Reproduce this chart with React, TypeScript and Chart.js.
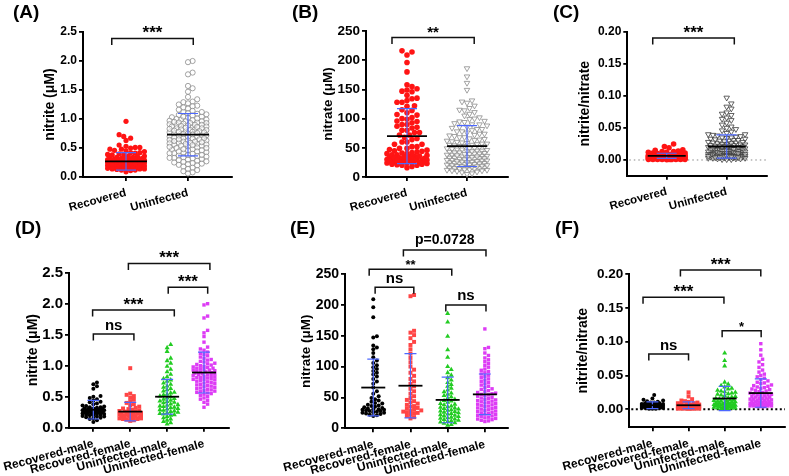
import React, { useEffect, useRef } from 'react';
import { Chart, registerables } from 'chart.js';
Chart.register(...registerables);

const FONT = "'Liberation Sans', Arial, Helvetica, sans-serif";

// ---------- data ----------
const groups2 = ['Recovered', 'Uninfected'];
const groups4 = ['Recovered-male', 'Recovered-female', 'Uninfected-male', 'Uninfected-female'];

const nitriteRM = [0.73, 0.70, 0.67, 0.63, 0.51, 0.50, 0.48, 0.46, 0.44, 0.42, 0.41, 0.39, 0.38, 0.36, 0.35, 0.34, 0.33, 0.33, 0.32, 0.31, 0.31, 0.30, 0.30, 0.29, 0.29, 0.29, 0.28, 0.28, 0.27, 0.27, 0.27, 0.26, 0.26, 0.25, 0.25, 0.25, 0.24, 0.24, 0.23, 0.23, 0.22, 0.22, 0.21, 0.21, 0.20, 0.20, 0.19, 0.18, 0.18, 0.17, 0.16, 0.15, 0.14, 0.12, 0.09];
const nitriteRF = [0.96, 0.55, 0.53, 0.51, 0.48, 0.45, 0.42, 0.40, 0.38, 0.36, 0.34, 0.32, 0.31, 0.30, 0.29, 0.28, 0.27, 0.26, 0.26, 0.25, 0.24, 0.24, 0.23, 0.23, 0.22, 0.22, 0.21, 0.21, 0.20, 0.20, 0.19, 0.19, 0.18, 0.18, 0.17, 0.17, 0.16, 0.16, 0.15, 0.15, 0.14, 0.14, 0.13, 0.12, 0.11];
const nitriteUM = [1.34, 1.29, 1.23, 1.12, 1.08, 1.04, 0.99, 0.94, 0.90, 0.86, 0.82, 0.79, 0.77, 0.75, 0.72, 0.70, 0.67, 0.65, 0.63, 0.61, 0.59, 0.57, 0.56, 0.54, 0.53, 0.51, 0.50, 0.48, 0.47, 0.46, 0.44, 0.43, 0.42, 0.41, 0.40, 0.38, 0.37, 0.36, 0.35, 0.34, 0.33, 0.32, 0.31, 0.30, 0.29, 0.28, 0.27, 0.26, 0.25, 0.24, 0.23, 0.22, 0.21, 0.20, 0.18, 0.16, 0.14, 0.12, 0.10, 0.08, 0.06];
const nitriteUF = [2.00, 1.98, 1.80, 1.77, 1.57, 1.53, 1.47, 1.38, 1.30, 1.27, 1.25, 1.22, 1.20, 1.18, 1.16, 1.14, 1.12, 1.10, 1.09, 1.07, 1.06, 1.04, 1.03, 1.02, 1.01, 1.00, 0.99, 0.98, 0.97, 0.96, 0.96, 0.95, 0.94, 0.93, 0.93, 0.92, 0.91, 0.90, 0.90, 0.89, 0.88, 0.87, 0.87, 0.86, 0.85, 0.84, 0.84, 0.83, 0.82, 0.81, 0.81, 0.80, 0.79, 0.78, 0.78, 0.77, 0.76, 0.75, 0.74, 0.73, 0.72, 0.71, 0.70, 0.69, 0.68, 0.67, 0.66, 0.65, 0.64, 0.63, 0.62, 0.61, 0.60, 0.59, 0.58, 0.57, 0.56, 0.55, 0.54, 0.52, 0.50, 0.48, 0.46, 0.44, 0.41, 0.38, 0.33];

const nitrateRM = [209, 196, 180, 149, 147, 134, 131, 128, 122, 115, 110, 106, 102, 99, 96, 93, 90, 87, 84, 80, 76, 72, 66, 60, 56, 52, 49, 47, 45, 43, 41, 40, 38, 37, 36, 35, 34, 33, 32, 31, 31, 30, 30, 29, 28, 28, 27, 26, 25, 25, 24, 23, 22, 21, 20];
const nitrateRF = [216, 214, 158, 155, 151, 146, 140, 135, 128, 121, 114, 107, 100, 95, 90, 85, 80, 76, 72, 68, 64, 60, 56, 52, 49, 46, 44, 42, 40, 38, 36, 35, 33, 32, 30, 29, 28, 27, 26, 25, 24, 22, 20, 18, 16];
const nitrateUM = [186, 172, 149, 127, 115, 100, 95, 90, 86, 82, 78, 74, 71, 68, 65, 62, 59, 57, 55, 53, 51, 49, 47, 45, 44, 42, 40, 39, 38, 36, 35, 34, 33, 32, 31, 30, 29, 28, 27, 26, 25, 24, 23, 22, 21, 20, 19, 18, 17, 16, 15, 14, 13, 12, 11, 10, 9, 8, 6, 5];
const nitrateUF = [161, 131, 129, 122, 118, 114, 111, 108, 105, 102, 99, 96, 94, 92, 90, 88, 86, 84, 82, 80, 78, 76, 74, 72, 70, 68, 66, 64, 63, 61, 60, 58, 57, 56, 55, 54, 53, 52, 50, 49, 48, 47, 46, 45, 44, 43, 42, 41, 40, 39, 38, 37, 36, 35, 34, 33, 32, 31, 30, 29, 28, 27, 26, 25, 24, 23, 22, 21, 20, 19, 18, 17, 16, 15, 14, 13, 12, 11];

const ratioRM = [0.021, 0.016, 0.014, 0.013, 0.012, 0.011, 0.010, 0.010, 0.009, 0.009, 0.009, 0.008, 0.008, 0.008, 0.008, 0.007, 0.007, 0.007, 0.007, 0.007, 0.006, 0.006, 0.006, 0.006, 0.006, 0.006, 0.005, 0.005, 0.005, 0.005, 0.005, 0.005, 0.004, 0.004, 0.004, 0.004, 0.004, 0.004, 0.003, 0.003, 0.003, 0.003, 0.003, 0.002, 0.002, 0.002, 0.002, 0.001, 0.001, 0.001];
const ratioRF = [0.025, 0.019, 0.015, 0.013, 0.012, 0.011, 0.010, 0.009, 0.009, 0.008, 0.008, 0.007, 0.007, 0.007, 0.006, 0.006, 0.006, 0.005, 0.005, 0.005, 0.005, 0.004, 0.004, 0.004, 0.004, 0.004, 0.003, 0.003, 0.003, 0.003, 0.003, 0.002, 0.002, 0.002, 0.002, 0.002, 0.001, 0.001, 0.001, 0.001, 0.001, 0.0008, 0.0006];
const ratioUM = [0.083, 0.072, 0.064, 0.040, 0.037, 0.035, 0.033, 0.031, 0.030, 0.028, 0.027, 0.026, 0.025, 0.024, 0.023, 0.022, 0.021, 0.020, 0.019, 0.018, 0.017, 0.016, 0.015, 0.015, 0.014, 0.014, 0.013, 0.013, 0.012, 0.012, 0.011, 0.011, 0.010, 0.010, 0.009, 0.009, 0.008, 0.008, 0.008, 0.007, 0.007, 0.007, 0.006, 0.006, 0.006, 0.005, 0.005, 0.005, 0.004, 0.004, 0.004, 0.003, 0.003, 0.003, 0.002, 0.002, 0.002, 0.001, 0.001, 0.001];
const ratioUF = [0.097, 0.088, 0.080, 0.074, 0.070, 0.066, 0.062, 0.058, 0.055, 0.052, 0.050, 0.048, 0.046, 0.044, 0.042, 0.040, 0.039, 0.038, 0.036, 0.035, 0.034, 0.033, 0.032, 0.031, 0.030, 0.029, 0.028, 0.027, 0.026, 0.025, 0.024, 0.023, 0.022, 0.022, 0.021, 0.020, 0.020, 0.019, 0.018, 0.018, 0.017, 0.016, 0.016, 0.015, 0.015, 0.014, 0.014, 0.013, 0.013, 0.012, 0.012, 0.011, 0.011, 0.010, 0.010, 0.010, 0.009, 0.009, 0.009, 0.008, 0.008, 0.008, 0.007, 0.007, 0.007, 0.006, 0.006, 0.006, 0.006, 0.005, 0.005, 0.005, 0.005, 0.004, 0.004, 0.004];

// mean and SD per group
const meanA = [0.27, 0.73];
const sdA = [0.15, 0.365];
const meanB = [70, 53];
const sdB = [47, 35];
const meanC = [0.0065, 0.021];
const sdC = [0.004, 0.018];
const meanD = [0.29, 0.26, 0.50, 0.89];
const sdD = [0.15, 0.15, 0.28, 0.33];
const meanE = [66, 69, 46, 55];
const sdE = [46, 52, 37, 33];
const meanF = [0.006, 0.006, 0.016, 0.024];
const sdF = [0.005, 0.005, 0.018, 0.021];

// tick labels
const ticksNitrite = [0, 0.5, 1.0, 1.5, 2.0, 2.5];
const ticksNitrate = [0, 50, 100, 150, 200, 250];
const ticksRatio = [0, 0.05, 0.10, 0.15, 0.20];

// significance brackets (x in group index units, y in data units)
const bracketsA = [{ x1: -0.23, x2: 1.085, y: 2.39, text: '***' }];
const bracketsB = [{ x1: -0.25, x2: 1.12, y: 239, text: '**' }];
const bracketsC = [{ x1: -0.233, x2: 1.127, y: 0.19, text: '***' }];
const bracketsD = [
  { x1: 0.95, x2: 3.16, y: 2.65, text: '***' },
  { x1: 2.03, x2: 3.10, y: 2.265, text: '***' },
  { x1: -0.02, x2: 2.195, y: 1.90, text: '***' },
  { x1: 0.0, x2: 1.10, y: 1.51, text: 'ns' },
];
const bracketsE = [
  { x1: 0.81, x2: 3.03, y: 289, text: 'p=0.0728' },
  { x1: -0.11, x2: 2.11, y: 257.7, text: '**' },
  { x1: 0.05, x2: 1.09, y: 228.5, text: 'ns' },
  { x1: 1.95, x2: 3.03, y: 199.8, text: 'ns' },
];
const bracketsF = [
  { x1: 0.775, x2: 3.0, y: 0.206, text: '***' },
  { x1: -0.26, x2: 1.98, y: 0.1656, text: '***' },
  { x1: 1.93, x2: 3.01, y: 0.116, text: '*' },
  { x1: -0.10, x2: 1.0, y: 0.0817, text: 'ns' },
];

// ---------- layout helpers ----------
type Bracket = { x1: number; x2: number; y: number; text: string };
type Series = { values: number[]; style: string; radius: number; fill: string; stroke: string; bw: number; rotation?: number };
type PanelDef = {
  left: number; top: number; width: number; height: number;
  area: [number, number, number, number];
  titleX: number; titleFont: number; yTitle: string;
  xMin: number; xMax: number; yMin: number; yMax: number;
  yTicks: number[]; dec: number; tickFont: number;
  cats: string[]; catFont: number;
  label: string; labelX: number; labelY: number;
  series: Series[]; means: number[]; sds: number[];
  meanHalf: number; capHalf: number;
  brackets: Bracket[]; bracketFont: Record<string, number>;
  zero: null | { color: string; width: number; dash: number[] };
  swarmD: number; swarmHalf: number;
};

function swarm(values: number[], pxY: number, d: number, maxHalf: number): number[] {
  const order = values.map((_, i) => i).sort((a, b) => values[a] - values[b]);
  const placed: { x: number; y: number }[] = [];
  const out = new Array(values.length).fill(0);
  const step = d / 2;
  const n = Math.max(1, Math.floor(maxHalf / step));
  for (const i of order) {
    const y = values[i] * pxY;
    const near = placed.filter((q) => Math.abs(q.y - y) < d);
    let best = 0;
    let bestScore = -1;
    for (let k = 0; k <= 2 * n; k++) {
      const off = k === 0 ? 0 : (k % 2 === 1 ? 1 : -1) * Math.ceil(k / 2) * step;
      let m = Infinity;
      for (const q of near) {
        const dd = Math.hypot(q.x - off, q.y - y);
        if (dd < m) m = dd;
      }
      if (m >= d) { best = off; break; }
      if (m > bestScore + 1e-9) { bestScore = m; best = off; }
    }
    placed.push({ x: best, y });
    out[i] = best;
  }
  return out;
}

const RED = '#ff1414';
const SDC = '#4d68ff';
const sub = (fill: string, style: string, radius: number, rotation = 0): Series =>
  ({ values: [], style, radius, fill, stroke: fill, bw: 0, rotation });

function subSeries(a: number[], b: number[], c: number[], d: number[]): Series[] {
  return [
    { ...sub('#000000', 'circle', 2.0), values: a },
    { ...sub('#ff4545', 'rect', 2.8), values: b },
    { ...sub('#22cc22', 'triangle', 2.9), values: c },
    { ...sub('#dd3cf5', 'rect', 2.4), values: d },
  ];
}

const fontSizes = { '***': 17, '**': 15, '*': 13, ns: 15, 'p=0.0728': 14 } as Record<string, number>;

const panels: PanelDef[] = [
  {
    left: 0, top: 0, width: 260, height: 215, area: [83, 32, 232, 177],
    titleX: 50, titleFont: 14, yTitle: 'nitrite (μM)',
    xMin: -0.694, xMax: 1.71, yMin: 0, yMax: 2.5, yTicks: ticksNitrite, dec: 1, tickFont: 12,
    cats: groups2, catFont: 11.5, label: '(A)', labelX: 13, labelY: 18,
    series: [
      { values: [...nitriteRM, ...nitriteRF], style: 'circle', radius: 2.6, fill: RED, stroke: RED, bw: 0 },
      { values: [...nitriteUM, ...nitriteUF], style: 'circle', radius: 2.6, fill: 'rgba(255,255,255,0.55)', stroke: '#8c8c8c', bw: 0.8 },
    ],
    means: meanA, sds: sdA, meanHalf: 21, capHalf: 10,
    brackets: bracketsA, bracketFont: fontSizes, zero: null, swarmD: 4.6, swarmHalf: 20,
  },
  {
    left: 260, top: 0, width: 260, height: 215, area: [106, 31, 248, 177],
    titleX: 68, titleFont: 13.5, yTitle: 'nitrate (μM)',
    xMin: -0.683, xMax: 1.683, yMin: 0, yMax: 250, yTicks: ticksNitrate, dec: 0, tickFont: 13.5,
    cats: groups2, catFont: 11.5, label: '(B)', labelX: 32, labelY: 18,
    series: [
      { values: [...nitrateRM, ...nitrateRF], style: 'circle', radius: 2.8, fill: RED, stroke: RED, bw: 0 },
      { values: [...nitrateUM, ...nitrateUF], style: 'triangle', rotation: 180, radius: 3.2, fill: 'rgba(255,255,255,0.55)', stroke: '#8c8c8c', bw: 0.8 },
    ],
    means: meanB, sds: sdB, meanHalf: 20, capHalf: 10,
    brackets: bracketsB, bracketFont: fontSizes, zero: null, swarmD: 5, swarmHalf: 20,
  },
  {
    left: 520, top: 0, width: 269, height: 215, area: [107.3, 31.7, 246.7, 175.7],
    titleX: 65, titleFont: 14, yTitle: 'nitrite/nitrate',
    xMin: -0.657, xMax: 1.667, yMin: -0.0245, yMax: 0.2, yTicks: ticksRatio, dec: 2, tickFont: 12,
    cats: groups2, catFont: 11.5, label: '(C)', labelX: 33, labelY: 18,
    series: [
      { values: [...ratioRM, ...ratioRF], style: 'circle', radius: 2.8, fill: RED, stroke: RED, bw: 0 },
      { values: [...ratioUM, ...ratioUF], style: 'triangle', rotation: 180, radius: 3.2, fill: 'rgba(255,255,255,0.5)', stroke: '#3a3a3a', bw: 0.8 },
    ],
    means: meanC, sds: sdC, meanHalf: 19, capHalf: 10,
    brackets: bracketsC, bracketFont: fontSizes, zero: { color: '#888888', width: 1, dash: [1.5, 3] }, swarmD: 4.6, swarmHalf: 19,
  },
  {
    left: 0, top: 200, width: 260, height: 276, area: [69, 72.7, 229.3, 227.7],
    titleX: 33.3, titleFont: 14, yTitle: 'nitrite (μM)',
    xMin: -0.66, xMax: 3.686, yMin: 0, yMax: 2.5, yTicks: ticksNitrite, dec: 1, tickFont: 15,
    cats: groups4, catFont: 12, label: '(D)', labelX: 15, labelY: 34,
    series: subSeries(nitriteRM, nitriteRF, nitriteUM, nitriteUF),
    means: meanD, sds: sdD, meanHalf: 12, capHalf: 6,
    brackets: bracketsD, bracketFont: fontSizes, zero: null, swarmD: 3.6, swarmHalf: 11,
  },
  {
    left: 260, top: 200, width: 260, height: 276, area: [85, 74, 248.3, 228.3],
    titleX: 46.7, titleFont: 13.5, yTitle: 'nitrate (μM)',
    xMin: -0.76, xMax: 3.63, yMin: 0, yMax: 250, yTicks: ticksNitrate, dec: 0, tickFont: 14,
    cats: groups4, catFont: 12, label: '(E)', labelX: 30, labelY: 34,
    series: subSeries(nitrateRM, nitrateRF, nitrateUM, nitrateUF),
    means: meanE, sds: sdE, meanHalf: 12, capHalf: 6,
    brackets: bracketsE, bracketFont: { ...fontSizes, '**': 13 }, zero: null, swarmD: 3.6, swarmHalf: 11,
  },
  {
    left: 520, top: 200, width: 269, height: 276, area: [109.3, 74, 266.7, 227.3],
    titleX: 63.3, titleFont: 14, yTitle: 'nitrite/nitrate',
    xMin: -0.64, xMax: 3.67, yMin: -0.0266, yMax: 0.2, yTicks: ticksRatio, dec: 2, tickFont: 13.5,
    cats: groups4, catFont: 12, label: '(F)', labelX: 35, labelY: 34,
    series: subSeries(ratioRM, ratioRF, ratioUM, ratioUF),
    means: meanF, sds: sdF, meanHalf: 12, capHalf: 6,
    brackets: bracketsF, bracketFont: fontSizes, zero: { color: '#000000', width: 2, dash: [2, 2.5] }, swarmD: 3.6, swarmHalf: 11,
  },
];

function Panel({ p }: { p: PanelDef }) {
  const ref = useRef<HTMLCanvasElement>(null);
  useEffect(() => {
    if (!ref.current) return;
    const [l, t, r, b] = p.area;
    const pxX = (r - l) / (p.xMax - p.xMin);
    const pxY = (b - t) / (p.yMax - p.yMin);
    const padL = p.titleX - (p.titleFont * 1.2) / 2;
    const datasets = p.series.map((s, i) => {
      const offs = swarm(s.values, pxY, p.swarmD, p.swarmHalf);
      return {
        data: s.values.map((v, j) => ({ x: i + offs[j] / pxX, y: v })),
        pointStyle: s.style as any,
        pointRadius: s.radius,
        pointRotation: s.rotation || 0,
        pointBackgroundColor: s.fill,
        pointBorderColor: s.stroke,
        pointBorderWidth: s.bw,
        clip: false as any,
      };
    });
    const overlay = {
      id: 'overlay',
      beforeDatasetsDraw(chart: any) {
        if (!p.zero) return;
        const ctx = chart.ctx;
        const y = chart.scales.y.getPixelForValue(0);
        ctx.save();
        ctx.strokeStyle = p.zero.color;
        ctx.lineWidth = p.zero.width;
        ctx.setLineDash(p.zero.dash);
        ctx.beginPath();
        ctx.moveTo(chart.chartArea.left + 2, y);
        ctx.lineTo(chart.chartArea.right, y);
        ctx.stroke();
        ctx.restore();
      },
      afterDatasetsDraw(chart: any) {
        const ctx = chart.ctx;
        const xs = chart.scales.x, ys = chart.scales.y;
        ctx.save();
        p.means.forEach((m, i) => {
          const cx = xs.getPixelForValue(i);
          const yt = ys.getPixelForValue(m + p.sds[i]);
          const yb = ys.getPixelForValue(Math.max(m - p.sds[i], p.yMin));
          ctx.strokeStyle = SDC;
          ctx.lineWidth = 1.2;
          ctx.beginPath();
          ctx.moveTo(cx, yt); ctx.lineTo(cx, yb);
          ctx.moveTo(cx - p.capHalf, yt); ctx.lineTo(cx + p.capHalf, yt);
          ctx.moveTo(cx - p.capHalf, yb); ctx.lineTo(cx + p.capHalf, yb);
          ctx.stroke();
          const ym = ys.getPixelForValue(m);
          ctx.strokeStyle = '#000';
          ctx.lineWidth = 1.8;
          ctx.beginPath();
          ctx.moveTo(cx - p.meanHalf, ym); ctx.lineTo(cx + p.meanHalf, ym);
          ctx.stroke();
        });
        ctx.restore();
      },
      afterDraw(chart: any) {
        const ctx = chart.ctx;
        const xs = chart.scales.x, ys = chart.scales.y;
        ctx.save();
        ctx.strokeStyle = '#111';
        ctx.fillStyle = '#000';
        ctx.lineWidth = 1.5;
        p.brackets.forEach((br) => {
          const x1 = xs.getPixelForValue(br.x1);
          const x2 = xs.getPixelForValue(br.x2);
          const y = ys.getPixelForValue(br.y);
          ctx.beginPath();
          ctx.moveTo(x1, y + 6.5); ctx.lineTo(x1, y); ctx.lineTo(x2, y); ctx.lineTo(x2, y + 6.5);
          ctx.stroke();
          const size = p.bracketFont[br.text] || 15;
          ctx.font = `bold ${size}px ${FONT}`;
          ctx.textAlign = 'center';
          ctx.textBaseline = 'alphabetic';
          const gap = br.text.includes('*') ? 0 : br.text === 'ns' ? 4.5 : 6;
          ctx.fillText(br.text, (x1 + x2) / 2, y - gap);
        });
        ctx.font = `bold 19px ${FONT}`;
        ctx.textAlign = 'left';
        ctx.textBaseline = 'alphabetic';
        ctx.fillText(p.label, p.labelX, p.labelY);
        ctx.restore();
      },
    };
    const chart = new Chart(ref.current, {
      type: 'scatter',
      data: { datasets: datasets as any },
      options: {
        animation: false,
        responsive: false,
        maintainAspectRatio: false,
        events: [],
        layout: { padding: { left: padL, top: t, right: p.width - r, bottom: 0 } },
        plugins: { legend: { display: false }, tooltip: { enabled: false }, title: { display: false } },
        scales: {
          x: {
            type: 'linear',
            min: p.xMin,
            max: p.xMax,
            afterBuildTicks: (s: any) => { s.ticks = p.cats.map((_, i) => ({ value: i })); },
            afterFit: (s: any) => { s.height = p.height - b; s.paddingLeft = 0; s.paddingRight = 0; },
            ticks: {
              autoSkip: false,
              minRotation: 15,
              maxRotation: 15,
              padding: 5,
              color: '#000',
              font: { family: FONT, size: p.catFont, weight: 'bold' },
              callback: (v: any) => p.cats[Math.round(Number(v))] ?? '',
            },
            grid: { display: true, drawOnChartArea: false, drawTicks: true, tickLength: 4, color: '#000', lineWidth: 1.8 },
            border: { display: true, color: '#000', width: 2 },
          },
          y: {
            type: 'linear',
            min: p.yMin,
            max: p.yMax,
            afterBuildTicks: (s: any) => { s.ticks = p.yTicks.map((v) => ({ value: v })); },
            afterFit: (s: any) => { s.width = l - padL; s.paddingTop = 0; s.paddingBottom = 0; },
            ticks: {
              padding: 2,
              color: '#000',
              font: { family: FONT, size: p.tickFont, weight: 'bold' },
              callback: (v: any) => Number(v).toFixed(p.dec),
            },
            grid: { display: true, drawOnChartArea: false, drawTicks: true, tickLength: 4, color: '#000', lineWidth: 1.8 },
            border: { display: true, color: '#000', width: 2 },
            title: {
              display: true,
              text: p.yTitle,
              color: '#000',
              padding: 0,
              font: { family: FONT, size: p.titleFont, weight: 'bold' },
            },
          },
        },
      } as any,
      plugins: [overlay],
    });
    return () => chart.destroy();
  }, [p]);
  return (
    <canvas
      ref={ref}
      width={p.width}
      height={p.height}
      style={{ position: 'absolute', left: p.left, top: p.top, width: p.width, height: p.height }}
    />
  );
}

export default function App() {
  return (
    <div style={{ position: 'fixed', left: 0, top: 0, width: 789, height: 476, background: '#ffffff', overflow: 'hidden' }}>
      {panels.map((p, i) => (
        <Panel key={i} p={p} />
      ))}
    </div>
  );
}
